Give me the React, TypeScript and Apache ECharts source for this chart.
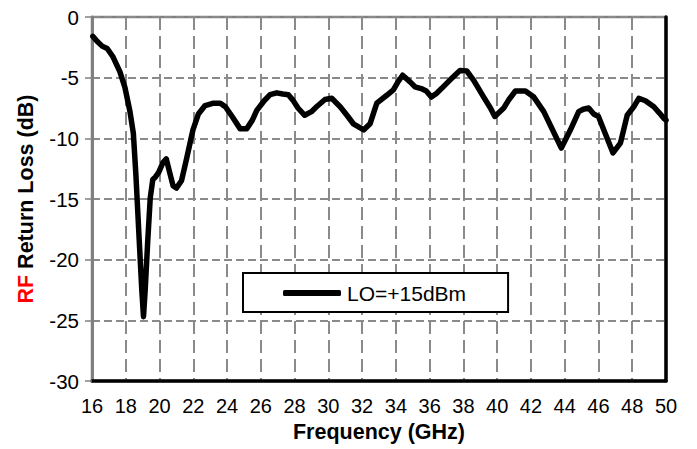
import React, { useEffect, useRef } from "react";
import * as echarts from "echarts";

const freqGHz = [
  16.05, 16.3, 16.6, 16.9, 17.25, 17.65, 17.95, 18.25, 18.45, 18.6, 18.8, 18.95, 19.05, 19.15, 19.3, 19.45,
  19.6, 19.75, 19.95, 20.2, 20.4, 20.6, 20.8, 21.0, 21.3, 21.6, 21.98, 22.3, 22.7, 23.2, 23.6, 23.9, 24.3,
  24.77, 25.17, 25.5, 25.76, 26.2, 26.55, 26.94, 27.3, 27.63, 27.9, 28.2, 28.6, 29.0, 29.3, 29.8, 30.2,
  30.7, 31.1, 31.48, 32.1, 32.47, 32.87, 33.46, 33.85, 34.1, 34.4, 34.84, 35.13, 35.5, 35.8, 36.1, 36.4,
  36.7, 37.2, 37.5, 37.8, 38.2, 38.6, 39.2, 39.6, 39.86, 40.39, 40.7, 41.08, 41.67, 42.17, 42.76, 43.35,
  43.8, 44.34, 44.83, 45.1, 45.42, 45.72, 46.0, 46.4, 46.86, 47.3, 47.7, 48.09, 48.39, 48.78, 49.28, 49.6,
  49.87, 50.0,
];

const returnLossDb = [
  -1.6, -2.0, -2.4, -2.6, -3.3, -4.5, -5.8, -7.8, -9.6, -13.0, -18.5, -22.5, -24.7, -22.5, -18.5, -14.9,
  -13.4, -13.2, -12.8, -12.0, -11.7, -12.8, -13.9, -14.1, -13.5, -11.7, -9.3, -8.0, -7.3, -7.1, -7.1, -7.4, -8.2,
  -9.2, -9.2, -8.5, -7.7, -6.9, -6.4, -6.25, -6.35, -6.4, -6.85, -7.5, -8.1, -7.8, -7.4, -6.8, -6.7,
  -7.4, -8.1, -8.8, -9.3, -8.8, -7.1, -6.45, -6.0, -5.4, -4.8, -5.35, -5.75, -5.9, -6.1, -6.6, -6.3,
  -5.9, -5.2, -4.8, -4.4, -4.45, -5.2, -6.6, -7.5, -8.2, -7.5, -6.8, -6.1, -6.1, -6.6, -7.8, -9.5,
  -10.8, -9.3, -7.8, -7.6, -7.5, -8.0, -8.2, -9.6, -11.2, -10.4, -8.1, -7.4, -6.7, -6.9, -7.4, -7.9,
  -8.35, -8.5,
];

const seriesName = "LO=+15dBm";
const xMin = 16;
const xMax = 50;
const xStep = 2;
const yMin = -30;
const yMax = 0;
const yStep = 5;

const FONT = "'Liberation Sans', Arial, sans-serif";

export default function App() {
  const ref = useRef<HTMLDivElement>(null);

  useEffect(() => {
    if (!ref.current) return;
    const chart = echarts.init(ref.current, undefined, { renderer: "svg" });
    const data = freqGHz.map((f, i) => [f, returnLossDb[i]]);
    chart.setOption({
      animation: false,
      backgroundColor: "#ffffff",
      textStyle: { fontFamily: FONT },
      grid: {
        left: 92,
        top: 17,
        right: 31,
        bottom: 68,
        show: true,
        borderColor: "#808080",
        borderWidth: 2.5,
        backgroundColor: "transparent",
      },
      legend: {
        show: true,
        data: [{ name: seriesName, icon: "roundRect" }],
        left: 243,
        top: 273,
        orient: "horizontal",
        backgroundColor: "#ffffff",
        borderColor: "#000000",
        borderWidth: 2,
        borderRadius: 0,
        padding: [8, 42, 7, 40],
        itemWidth: 58,
        itemHeight: 6,
        itemGap: 0,
        selectedMode: false,
        itemStyle: { color: "#000", borderWidth: 0 },
        textStyle: { fontFamily: FONT, fontSize: 21, lineHeight: 24, color: "#000", padding: [0, 0, 0, 1] },
      },
      xAxis: {
        type: "value",
        min: xMin,
        max: xMax,
        interval: xStep,
        name: "Frequency (GHz)",
        nameLocation: "middle",
        nameGap: 38,
        nameTextStyle: { fontFamily: FONT, fontSize: 21.5, fontWeight: "bold", color: "#000" },
        axisLine: { show: true, onZero: false, lineStyle: { color: "#000", width: 3.5 } },
        axisTick: { show: false },
        axisLabel: { fontFamily: FONT, fontSize: 20, color: "#000", margin: 15 },
        splitLine: { show: true, lineStyle: { color: "#8a8a8a", width: 2, type: [13, 6] } },
      },
      yAxis: [
        {
          type: "value",
          min: yMin,
          max: yMax,
          interval: yStep,
          name: "{r|RF} {b|Return Loss (dB)}",
          nameLocation: "middle",
          nameGap: 55,
          nameRotate: 90,
          nameTextStyle: {
            fontFamily: FONT,
            fontSize: 21.5,
            fontWeight: "bold",
            rich: {
              r: { fontFamily: FONT, fontSize: 21.5, fontWeight: "bold", color: "#ff0000" },
              b: { fontFamily: FONT, fontSize: 21.5, fontWeight: "bold", color: "#000000" },
            },
          },
          axisLine: { show: true, onZero: false, lineStyle: { color: "#808080", width: 3 } },
          axisTick: { show: true, length: 7, lineStyle: { color: "#808080", width: 1.5 } },
          axisLabel: { fontFamily: FONT, fontSize: 20.5, color: "#000", margin: 13 },
          splitLine: { show: true, lineStyle: { color: "#8a8a8a", width: 2, type: [8, 4] } },
        },
        {
          type: "value",
          min: yMin,
          max: yMax,
          interval: yStep,
          position: "right",
          axisLine: { show: true, onZero: false, lineStyle: { color: "#000", width: 3.5 } },
          axisTick: { show: false },
          axisLabel: { show: false },
          splitLine: { show: false },
        },
      ],
      series: [
        {
          name: seriesName,
          type: "line",
          data,
          yAxisIndex: 0,
          showSymbol: false,
          symbol: "none",
          smooth: false,
          lineStyle: { color: "#000", width: 5.5, cap: "round", join: "round" },
          itemStyle: { color: "#000" },
          z: 5,
        },
      ],
    });
    return () => chart.dispose();
  }, []);

  return (
    <div
      ref={ref}
      style={{ position: "absolute", left: 0, top: 0, width: 697, height: 449 }}
    />
  );
}
